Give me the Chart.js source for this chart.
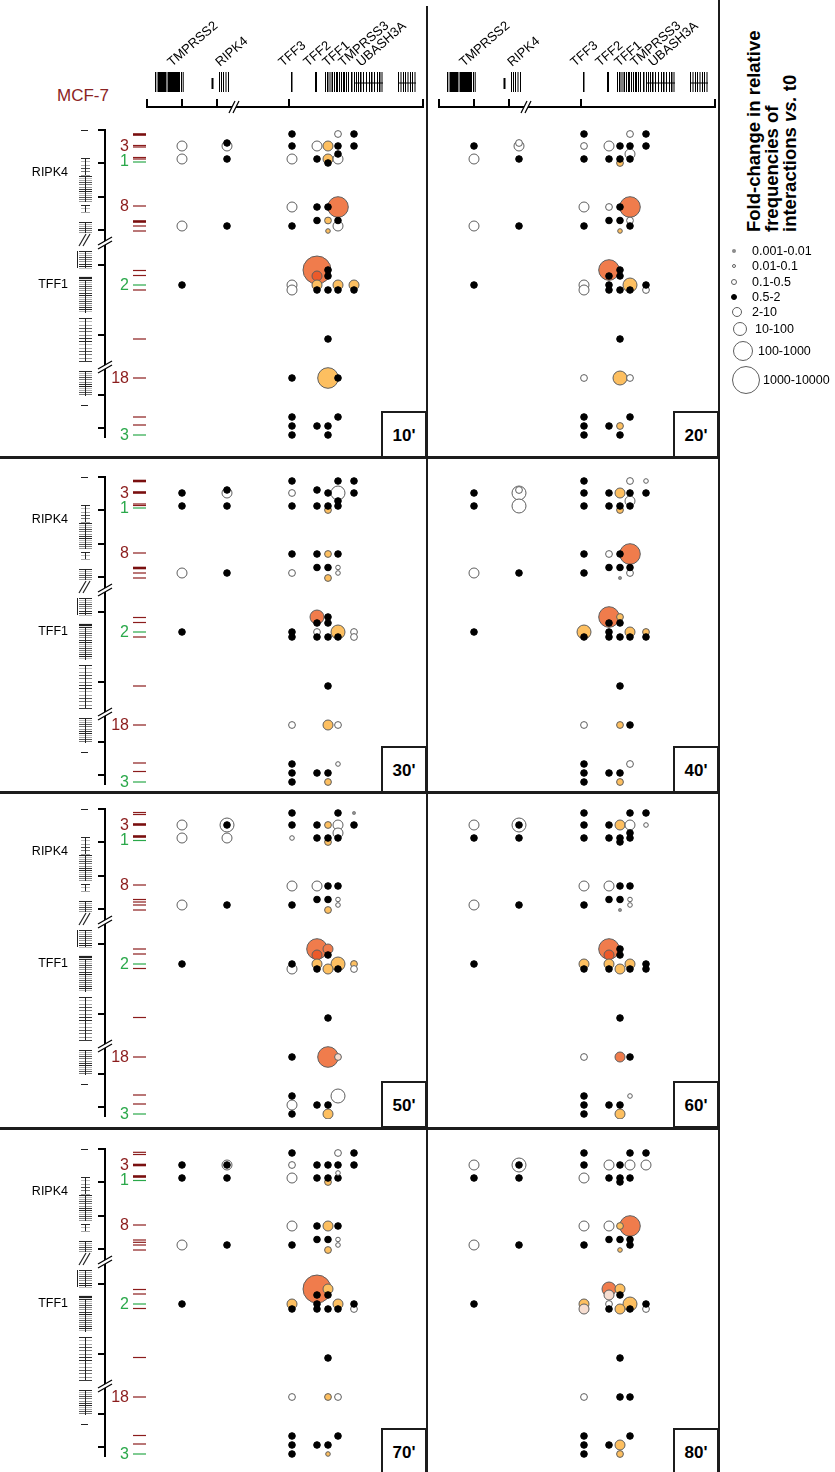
<!DOCTYPE html>
<html>
<head>
<meta charset="utf-8">
<script src="https://cdn.jsdelivr.net/npm/chart.js@4.4.1/dist/chart.umd.min.js"></script>
<style>
  html, body { margin: 0; padding: 0; background: #fff; }
  body { width: 835px; height: 1472px; position: relative; overflow: hidden;
         font-family: "Liberation Sans", Arial, Helvetica, sans-serif; color: #000; }
  canvas { position: absolute; }
  .rule { position: absolute; background: #1c1c1c; }
  .tbox { position: absolute; width: 46px; height: 47px; box-sizing: border-box;
          border: 2px solid #1c1c1c; background: #fff; font-weight: bold; font-size: 17px;
          text-align: center; line-height: 46px; }
  .lg-dot { position: absolute; border-radius: 50%; box-sizing: border-box; }
  .lg-txt { position: absolute; font-size: 12.5px; line-height: 14px; }
  #lgTitle { position: absolute; left: 745px; top: 232px; width: 210px; transform-origin: 0 0;
             transform: rotate(-90deg); font-weight: bold; font-size: 18.5px; line-height: 18px;
             white-space: nowrap; }
  #cell { position: absolute; left: 57px; top: 86px; font-size: 17px; color: #8b2323; }
</style>
</head>
<body>
<div id="cell">MCF-7</div>
<div id="lgTitle">Fold-change in relative<br>frequencies of<br>interactions <i>vs.</i> t0</div>
<script>
// ---------------------------------------------------------------
// Data
// ---------------------------------------------------------------
const timePoints = ["10'", "20'", "30'", "40'", "50'", "60'", "70'", "80'"];

// Captured fragment positions along the locus (horizontal coordinate)
const fragX = [47, 92, 157, 182, 193, 203, 219];

// Fragment positions along the viewpoint map (vertical coordinate)
const fragY = { A: 4, b: 13, B: 16, C: 24, D: 29, E: 33, F: 77, G: 90.5, H: 96, I: 101,
                J: 140, K: 146, L: 155, M: 160, N: 209, O: 248, P: 287, Q: 296, S: 305 };

// Fold-change classes (index 1..8 used in the tables below)
const foldClasses = ['0.001-0.01', '0.01-0.1', '0.1-0.5', '0.5-2', '2-10', '10-100', '100-1000', '1000-10000'];

// Interactions per time point: [fragment column, fragment row, fold-change class, colour code]
const t10 = [
  [0,'B',5,'w'],[0,'D',5,'w'],[0,'H',5,'w'],[0,'L',4,'k'],
  [1,'B',5,'w'],[1,'b',4,'k'],[1,'D',4,'k'],[1,'H',4,'k'],
  [2,'A',4,'k'],[2,'B',4,'k'],[2,'D',5,'w'],[2,'F',5,'w'],[2,'H',4,'k'],[2,'L',5,'w'],[2,'M',5,'w'],[2,'O',4,'k'],[2,'P',4,'k'],[2,'Q',4,'k'],[2,'S',4,'k'],
  [3,'B',5,'w'],[3,'D',4,'k'],[3,'F',4,'k'],[3,'G',4,'k'],[3,'J',8,'r'],[3,'K',5,'d'],[3,'L',5,'o'],[3,'M',4,'k'],[3,'Q',4,'k'],
  [4,'B',5,'o'],[4,'D',5,'o'],[4,'E',4,'k'],[4,'F',4,'k'],[4,'G',3,'o'],[4,'I',2,'o'],[4,'J',4,'k'],[4,'K',4,'k'],[4,'M',4,'k'],[4,'N',4,'k'],[4,'O',7,'o'],[4,'Q',4,'k'],[4,'S',4,'k'],
  [5,'A',3,'w'],[5,'B',4,'k'],[5,'C',4,'k'],[5,'D',5,'w'],[5,'F',7,'r'],[5,'G',4,'k'],[5,'H',5,'w'],[5,'L',5,'o'],[5,'M',4,'k'],[5,'O',4,'k'],[5,'P',4,'k'],
  [6,'A',4,'k'],[6,'B',4,'k'],[6,'L',5,'o'],[6,'M',4,'k']
];
const t20 = [
  [0,'B',4,'k'],[0,'D',5,'w'],[0,'H',5,'w'],[0,'L',4,'k'],
  [1,'b',3,'w'],[1,'B',5,'w'],[1,'D',4,'k'],[1,'H',4,'k'],
  [2,'A',4,'k'],[2,'B',3,'w'],[2,'D',4,'k'],[2,'F',5,'w'],[2,'H',4,'k'],[2,'L',5,'w'],[2,'M',5,'w'],[2,'O',3,'w'],[2,'P',4,'k'],[2,'Q',4,'k'],[2,'S',4,'k'],
  [3,'B',5,'w'],[3,'D',4,'k'],[3,'F',3,'w'],[3,'G',4,'k'],[3,'J',7,'r'],[3,'K',4,'k'],[3,'L',4,'k'],[3,'M',4,'k'],[3,'Q',4,'k'],
  [4,'B',4,'k'],[4,'D',4,'k'],[4,'E',3,'o'],[4,'F',4,'k'],[4,'G',4,'k'],[4,'I',2,'o'],[4,'J',4,'k'],[4,'K',4,'k'],[4,'M',4,'k'],[4,'N',4,'k'],[4,'O',6,'o'],[4,'Q',3,'o'],[4,'S',4,'k'],
  [5,'A',3,'w'],[5,'B',4,'k'],[5,'C',5,'w'],[5,'D',4,'k'],[5,'F',7,'r'],[5,'G',3,'w'],[5,'H',4,'k'],[5,'L',6,'o'],[5,'M',4,'k'],[5,'O',3,'w'],[5,'P',4,'k'],
  [6,'A',4,'k'],[6,'B',4,'k'],[6,'L',4,'k'],[6,'M',3,'w']
];
const t30 = [
  [0,'B',4,'k'],[0,'D',4,'k'],[0,'H',5,'w'],[0,'L',4,'k'],
  [1,'b',4,'k'],[1,'B',5,'w'],[1,'D',4,'k'],[1,'H',4,'k'],
  [2,'A',4,'k'],[2,'B',3,'w'],[2,'D',4,'k'],[2,'F',4,'k'],[2,'H',3,'w'],[2,'L',4,'k'],[2,'M',4,'k'],[2,'O',3,'w'],[2,'P',4,'k'],[2,'Q',4,'k'],[2,'S',4,'k'],
  [3,'b',4,'k'],[3,'D',4,'k'],[3,'F',4,'k'],[3,'G',4,'k'],[3,'J',6,'r'],[3,'K',4,'k'],[3,'L',3,'w'],[3,'M',4,'k'],[3,'Q',4,'k'],
  [4,'B',4,'k'],[4,'D',4,'k'],[4,'E',3,'o'],[4,'F',3,'o'],[4,'G',4,'k'],[4,'I',3,'o'],[4,'J',4,'k'],[4,'K',4,'k'],[4,'M',4,'k'],[4,'N',4,'k'],[4,'O',5,'o'],[4,'Q',4,'k'],[4,'S',3,'o'],
  [5,'A',4,'k'],[5,'B',6,'w'],[5,'C',4,'k'],[5,'D',4,'k'],[5,'F',4,'k'],[5,'G',2,'w'],[5,'H',2,'w'],[5,'L',6,'o'],[5,'M',4,'k'],[5,'O',3,'w'],[5,'P',2,'w'],
  [6,'A',4,'k'],[6,'B',4,'k'],[6,'L',3,'w'],[6,'M',3,'w']
];
const t40 = [
  [0,'B',4,'k'],[0,'D',4,'k'],[0,'H',5,'w'],[0,'L',4,'k'],
  [1,'b',3,'w'],[1,'B',6,'w'],[1,'D',6,'w'],[1,'H',4,'k'],
  [2,'A',4,'k'],[2,'B',4,'k'],[2,'D',4,'k'],[2,'F',4,'k'],[2,'H',4,'k'],[2,'L',6,'o'],[2,'M',4,'k'],[2,'O',3,'w'],[2,'P',4,'k'],[2,'Q',4,'k'],[2,'S',4,'k'],
  [3,'B',4,'k'],[3,'D',4,'k'],[3,'F',3,'w'],[3,'G',4,'k'],[3,'J',7,'r'],[3,'K',4,'k'],[3,'L',4,'k'],[3,'M',4,'k'],[3,'Q',4,'k'],
  [4,'B',5,'o'],[4,'D',4,'k'],[4,'E',3,'o'],[4,'F',4,'k'],[4,'G',4,'k'],[4,'I',1,'g'],[4,'J',3,'o'],[4,'K',4,'k'],[4,'M',4,'k'],[4,'N',4,'k'],[4,'O',3,'o'],[4,'Q',4,'k'],[4,'S',3,'o'],
  [5,'A',3,'w'],[5,'B',4,'k'],[5,'C',5,'w'],[5,'D',4,'k'],[5,'F',7,'r'],[5,'G',4,'k'],[5,'H',3,'w'],[5,'L',5,'o'],[5,'M',4,'k'],[5,'O',4,'k'],[5,'P',3,'w'],
  [6,'A',2,'w'],[6,'B',4,'k'],[6,'L',3,'o'],[6,'M',4,'k']
];
const t50 = [
  [0,'B',5,'w'],[0,'D',5,'w'],[0,'H',5,'w'],[0,'L',4,'k'],
  [1,'B',6,'w'],[1,'B',4,'k'],[1,'D',5,'w'],[1,'H',4,'k'],
  [2,'A',4,'k'],[2,'B',4,'k'],[2,'D',2,'w'],[2,'F',5,'w'],[2,'H',4,'k'],[2,'L',4,'k'],[2,'M',5,'w'],[2,'O',4,'k'],[2,'P',4,'k'],[2,'Q',5,'w'],[2,'S',4,'k'],
  [3,'B',4,'k'],[3,'D',4,'k'],[3,'F',5,'w'],[3,'G',4,'k'],[3,'J',7,'r'],[3,'K',5,'d'],[3,'L',5,'o'],[3,'M',4,'k'],[3,'Q',4,'k'],
  [4,'B',3,'o'],[4,'D',4,'k'],[4,'E',3,'o'],[4,'F',4,'k'],[4,'G',4,'k'],[4,'I',3,'o'],[4,'J',5,'r'],[4,'K',4,'k'],[4,'M',5,'o'],[4,'N',4,'k'],[4,'O',7,'r'],[4,'Q',4,'k'],[4,'S',5,'o'],
  [5,'A',4,'k'],[5,'B',5,'w'],[5,'C',5,'w'],[5,'D',4,'k'],[5,'F',4,'k'],[5,'G',2,'w'],[5,'H',2,'w'],[5,'L',6,'o'],[5,'M',4,'k'],[5,'O',3,'p'],[5,'P',6,'w'],
  [6,'A',1,'g'],[6,'B',4,'k'],[6,'L',3,'o'],[6,'M',3,'w']
];
const t60 = [
  [0,'B',5,'w'],[0,'D',4,'k'],[0,'H',5,'w'],[0,'L',4,'k'],
  [1,'B',6,'w'],[1,'B',4,'k'],[1,'D',4,'k'],[1,'H',4,'k'],
  [2,'A',4,'k'],[2,'B',4,'k'],[2,'D',4,'k'],[2,'F',5,'w'],[2,'H',4,'k'],[2,'L',5,'o'],[2,'M',4,'k'],[2,'O',3,'w'],[2,'P',4,'k'],[2,'Q',4,'k'],[2,'S',4,'k'],
  [3,'B',4,'k'],[3,'D',4,'k'],[3,'F',5,'w'],[3,'G',4,'k'],[3,'J',7,'r'],[3,'K',5,'d'],[3,'L',5,'o'],[3,'M',4,'k'],[3,'Q',4,'k'],
  [4,'B',5,'o'],[4,'D',4,'k'],[4,'E',4,'k'],[4,'F',4,'k'],[4,'G',4,'k'],[4,'I',1,'g'],[4,'J',4,'k'],[4,'K',4,'k'],[4,'M',5,'o'],[4,'N',4,'k'],[4,'O',5,'r'],[4,'Q',4,'k'],[4,'S',5,'o'],
  [5,'A',4,'k'],[5,'B',5,'w'],[5,'C',4,'k'],[5,'D',4,'k'],[5,'F',4,'k'],[5,'G',2,'w'],[5,'H',2,'w'],[5,'L',5,'o'],[5,'M',4,'k'],[5,'O',4,'k'],[5,'P',2,'w'],
  [6,'A',4,'k'],[6,'B',2,'w'],[6,'L',4,'k'],[6,'M',4,'k']
];
const t70 = [
  [0,'B',4,'k'],[0,'D',4,'k'],[0,'H',5,'w'],[0,'L',4,'k'],
  [1,'B',5,'w'],[1,'B',4,'k'],[1,'D',4,'k'],[1,'H',4,'k'],
  [2,'A',4,'k'],[2,'B',3,'w'],[2,'D',5,'w'],[2,'F',5,'w'],[2,'H',4,'k'],[2,'L',5,'o'],[2,'M',4,'k'],[2,'O',3,'w'],[2,'P',4,'k'],[2,'Q',4,'k'],[2,'S',4,'k'],
  [3,'B',4,'k'],[3,'D',4,'k'],[3,'F',4,'k'],[3,'G',4,'k'],[3,'J',8,'r'],[3,'K',4,'k'],[3,'L',4,'k'],[3,'M',4,'k'],[3,'Q',4,'k'],
  [4,'B',4,'k'],[4,'D',4,'k'],[4,'E',3,'o'],[4,'F',5,'o'],[4,'G',4,'k'],[4,'I',3,'o'],[4,'J',5,'o'],[4,'K',4,'k'],[4,'M',4,'k'],[4,'N',4,'k'],[4,'O',3,'o'],[4,'Q',4,'k'],[4,'S',2,'o'],
  [5,'A',3,'w'],[5,'B',4,'k'],[5,'C',2,'w'],[5,'D',4,'k'],[5,'F',4,'k'],[5,'G',2,'w'],[5,'H',2,'w'],[5,'L',5,'o'],[5,'M',4,'k'],[5,'O',3,'w'],[5,'P',4,'k'],
  [6,'A',4,'k'],[6,'B',4,'k'],[6,'L',4,'k'],[6,'M',3,'w']
];
const t80 = [
  [0,'B',5,'w'],[0,'D',4,'k'],[0,'H',5,'w'],[0,'L',4,'k'],
  [1,'B',6,'w'],[1,'B',4,'k'],[1,'D',4,'k'],[1,'H',4,'k'],
  [2,'A',4,'k'],[2,'B',4,'k'],[2,'D',5,'w'],[2,'F',5,'w'],[2,'H',4,'k'],[2,'L',5,'o'],[2,'M',5,'p'],[2,'O',3,'w'],[2,'P',4,'k'],[2,'Q',4,'k'],[2,'S',4,'k'],
  [3,'B',5,'w'],[3,'D',4,'k'],[3,'F',5,'w'],[3,'G',4,'k'],[3,'J',6,'r'],[3,'K',5,'p'],[3,'L',3,'w'],[3,'M',4,'k'],[3,'Q',4,'k'],
  [4,'B',4,'k'],[4,'D',4,'k'],[4,'E',4,'k'],[4,'F',3,'o'],[4,'G',4,'k'],[4,'I',2,'o'],[4,'J',5,'o'],[4,'K',4,'k'],[4,'M',5,'o'],[4,'N',4,'k'],[4,'O',4,'k'],[4,'Q',5,'o'],[4,'S',3,'o'],
  [5,'A',4,'k'],[5,'B',5,'w'],[5,'D',4,'k'],[5,'F',7,'r'],[5,'G',4,'k'],[5,'H',4,'k'],[5,'L',6,'o'],[5,'M',4,'k'],[5,'O',4,'k'],[5,'P',4,'k'],
  [6,'A',4,'k'],[6,'B',5,'w'],[6,'L',4,'k'],[6,'M',3,'w']
];
const seriesByTime = [t10, t20, t30, t40, t50, t60, t70, t80];

// Restriction fragments on the viewpoint map: [position, kind] (R = bait, r = fragment, g = reference)
const map10 = [[4.5,'R'],[15.5,'r'],[17,'r'],[27.5,'r'],[29,'r'],[32,'g'],[76,'r'],[91.5,'R'],[96,'r'],[101,'r'],[140.5,'r'],[145.5,'r'],[155,'g'],[160,'r'],[209,'r'],[248,'r'],[287,'r'],[295,'r'],[305,'g']];
const map30 = [[4,'R'],[15.5,'R'],[27,'r'],[28.5,'r'],[31,'g'],[76,'r'],[91,'R'],[96,'r'],[101,'r'],[140.5,'r'],[145.5,'r'],[155,'g'],[160,'r'],[209,'r'],[248,'r'],[286,'r'],[294.5,'r'],[305,'g']];
const map50 = [[3.5,'r'],[5.5,'r'],[15.5,'R'],[27.5,'R'],[31.5,'g'],[76,'r'],[90.5,'r'],[93,'r'],[96,'r'],[101,'r'],[140,'r'],[145,'r'],[155,'g'],[159.5,'r'],[208.5,'r'],[248,'r'],[286,'r'],[295,'r'],[305,'g']];
const map70 = [[3.3,'r'],[5.5,'r'],[16,'R'],[27.5,'R'],[31.5,'g'],[76,'r'],[91,'r'],[93.3,'r'],[96,'r'],[101,'r'],[140.5,'r'],[145,'r'],[155,'g'],[159.5,'r'],[208.5,'r'],[248,'r'],[286.5,'r'],[295,'r'],[305,'g']];
const mapByRow = [map10, map30, map50, map70];

// Fragment numbers shown beside the map: [text, position, colour code]
const fragLabels = [['3',15.5,'r'],['1',31,'g'],['8',76,'r'],['2',155,'g'],['18',248,'r'],['3',305,'g']];
// Map scale ticks and breaks
const mapTicks = [0, 33, 67, 100, 135, 205, 265, 298];
const mapBreaks = [110, 234];
// Gene names on the map
const mapGenes = [['RIPK4', 43], ['TFF1', 155]];
// Ideogram bands: [from, to, density]
const ideoBands = [[28,45,'sparse'],[46,72,'dense'],[75,82,'sparse'],[92,103,'dense'],[121,138,'dense'],[150,183,'dense'],[188,231,'mid'],[241,266,'dense']];

// Locus track: exons (start, end) along the horizontal coordinate
const exons = [
  [20,21.3],[22.5,31.5],[32.5,45],[46,47],[47.7,48.5],
  [84,85],[86,87],[88,89],[90.5,91.5],[93,94],
  [156,157.5],[180,182],
  [190,191],[192,193.5],[194.5,195.5],[196.5,198],[199,200],[201,203],[204,205],[206,207],[208,210],[211,212],[213,214],[216,217.5],
  [219,220],[221,222],[223,224],[225,226.5],[228,229],[231,232],[234,235],[236,237.5],[239,240],[242,243],[244,245.5],[246.5,247.5],
  [263,264],[265.5,266.5],[268,269],[270,271],[272.5,273.5],[275,276],[277,278],[279.5,280.5]
];
const shortExons = [[76.5,78.5]];
const locusTicks = [12, 47, 82, 154, 288];
const locusGenes = [['TMPRSS2',37],['RIPK4',85],['TFF3',148],['TFF2',173],['TFF1',192],['TMPRSS3',208],['UBASH3A',226]];

// ---------------------------------------------------------------
// Styling
// ---------------------------------------------------------------
const FONT = '"Liberation Sans", Arial, sans-serif';
const classRadius = { 1: 1.6, 2: 2.3, 3: 3.4, 4: 3.3, 5: 5, 6: 7, 7: 10.3, 8: 14 };
const fillColor = { k: '#000000', w: '#ffffff', o: '#fdbf60', r: '#f07c4c', d: '#ec5a2a', p: '#f6ddd0', g: '#8c8c8c' };
const strokeColor = f => (f === 'k' ? '#000000' : f === 'g' ? '#8c8c8c' : '#5e5e5e');
const MAP_RED = '#8b1c1c', MAP_GREEN = '#2aa84a';

const PAD_TOP = 22, PANEL_H = 332, COL_W = 292;
const rowBase = [130, 476.7, 809.3, 1149];
const colLeft = [135, 427];

function line(ctx, x0, y0, x1, y1) { ctx.beginPath(); ctx.moveTo(x0, y0); ctx.lineTo(x1, y1); ctx.stroke(); }

// Viewpoint map on the left of each row: ideogram, scale, fragments, labels
function mapPlugin(marks) {
  return {
    id: 'viewpointMap',
    afterDraw(chart) {
      const ctx = chart.ctx;
      const Y = v => chart.scales.y.getPixelForValue(v);
      ctx.save();
      // ideogram
      const shades = ['#2a2a2a', '#9a9a9a', '#555555', '#bcbcbc', '#3a3a3a', '#7c7c7c', '#a8a8a8'];
      ideoBands.forEach(([a, b, kind]) => {
        const step = kind === 'dense' ? 2.1 : 3.3;
        let i = 0;
        for (let v = a; v <= b; v += step, i++) {
          const yy = Math.round(Y(v)) + 0.5;
          ctx.strokeStyle = shades[(i * 3) % shades.length];
          ctx.lineWidth = 1;
          if (kind === 'sparse') line(ctx, 81, yy, 90, yy); else line(ctx, 79, yy, 92, yy);
        }
        ctx.strokeStyle = '#222'; ctx.lineWidth = 1;
        line(ctx, 85.5, Y(a), 85.5, Y(b));
      });
      ctx.strokeStyle = '#222'; ctx.lineWidth = 1;
      line(ctx, 81, Math.round(Y(0)) + 0.5, 88, Math.round(Y(0)) + 0.5);
      line(ctx, 81, Math.round(Y(275)) + 0.5, 88, Math.round(Y(275)) + 0.5);
      line(ctx, 77.5, Y(121), 77.5, Y(138));
      ctx.lineWidth = 2.2;
      line(ctx, 79, Y(148), 92, Y(148));
      // ideogram break
      ctx.lineWidth = 1.2; ctx.strokeStyle = '#222';
      line(ctx, 79, Y(116), 86, Y(104));
      line(ctx, 83, Y(116), 90, Y(104));

      // scale
      ctx.strokeStyle = '#000'; ctx.lineWidth = 2;
      line(ctx, 105, Y(-0.5), 105, Y(308));
      mapTicks.forEach(t => line(ctx, 98, Y(t), 106, Y(t)));
      mapBreaks.forEach(r => {
        const c = Y(r);
        ctx.fillStyle = '#fff';
        ctx.beginPath();
        ctx.moveTo(98, c + 5); ctx.lineTo(112, c - 3); ctx.lineTo(112, c + 1); ctx.lineTo(98, c + 9);
        ctx.closePath(); ctx.fill();
        ctx.strokeStyle = '#000'; ctx.lineWidth = 1.2;
        line(ctx, 98, c + 5, 112, c - 3);
        line(ctx, 98, c + 9, 112, c + 1);
      });

      // fragments
      marks.forEach(([r, kind]) => {
        ctx.strokeStyle = kind === 'g' ? MAP_GREEN : (kind === 'R' ? '#7a0f0f' : MAP_RED);
        ctx.lineWidth = kind === 'R' ? 2.6 : 1.2;
        line(ctx, 133, Y(r), 146, Y(r));
      });
      ctx.font = '16px ' + FONT;
      ctx.textAlign = 'right'; ctx.textBaseline = 'middle';
      fragLabels.forEach(([txt, r, c]) => {
        ctx.fillStyle = c === 'g' ? MAP_GREEN : MAP_RED;
        ctx.fillText(txt, 129, Y(r) + 1);
      });
      ctx.fillStyle = '#000'; ctx.font = '12.5px ' + FONT;
      mapGenes.forEach(([txt, r]) => ctx.fillText(txt, 68, Y(r)));
      ctx.restore();
    }
  };
}

// Locus track above each column
const locusPlugin = {
  id: 'locusTrack',
  afterDraw(chart) {
    const ctx = chart.ctx, xs = chart.scales.x, ys = chart.scales.y;
    ctx.save();
    ctx.fillStyle = '#000';
    exons.forEach(([a, b]) => {
      const x0 = xs.getPixelForValue(a), x1 = xs.getPixelForValue(b);
      ctx.fillRect(x0, ys.getPixelForValue(72), Math.max(1, x1 - x0), ys.getPixelForValue(92) - ys.getPixelForValue(72));
    });
    shortExons.forEach(([a, b]) => {
      const x0 = xs.getPixelForValue(a), x1 = xs.getPixelForValue(b);
      ctx.fillRect(x0, ys.getPixelForValue(78), x1 - x0, ys.getPixelForValue(89) - ys.getPixelForValue(78));
    });
    ctx.strokeStyle = '#000'; ctx.lineWidth = 1;
    line(ctx, xs.getPixelForValue(219), ys.getPixelForValue(83), xs.getPixelForValue(248), ys.getPixelForValue(83));
    line(ctx, xs.getPixelForValue(263), ys.getPixelForValue(83), xs.getPixelForValue(281), ys.getPixelForValue(83));
    // coordinate axis
    ctx.lineWidth = 2;
    const ay = ys.getPixelForValue(107);
    line(ctx, xs.getPixelForValue(12), ay, xs.getPixelForValue(288), ay);
    locusTicks.forEach(t => line(ctx, xs.getPixelForValue(t), ay + 1, xs.getPixelForValue(t), ay - 8));
    const bx = xs.getPixelForValue(99);
    ctx.fillStyle = '#fff';
    ctx.beginPath();
    ctx.moveTo(bx - 5, ay + 6); ctx.lineTo(bx + 1, ay - 6); ctx.lineTo(bx + 5, ay - 6); ctx.lineTo(bx - 1, ay + 6);
    ctx.closePath(); ctx.fill();
    ctx.lineWidth = 1.2;
    line(ctx, bx - 5, ay + 6, bx + 1, ay - 6);
    line(ctx, bx - 1, ay + 6, bx + 5, ay - 6);
    // gene names
    ctx.fillStyle = '#000'; ctx.font = '13px ' + FONT;
    ctx.textAlign = 'left'; ctx.textBaseline = 'alphabetic';
    locusGenes.forEach(([g, x]) => {
      ctx.save();
      ctx.translate(xs.getPixelForValue(x), ys.getPixelForValue(67));
      ctx.rotate(-41 * Math.PI / 180);
      ctx.fillText(g, 0, 0);
      ctx.restore();
    });
    ctx.restore();
  }
};

function addCanvas(left, top, w, h) {
  const cv = document.createElement('canvas');
  cv.width = w; cv.height = h;
  cv.style.left = left + 'px'; cv.style.top = top + 'px';
  cv.style.width = w + 'px'; cv.style.height = h + 'px';
  document.body.appendChild(cv);
  return cv;
}

const baseOptions = (padLeft, yMin, yMax) => ({
  responsive: false, animation: false, devicePixelRatio: 1, events: [],
  layout: { autoPadding: false, padding: { left: padLeft, right: 0, top: 0, bottom: 0 } },
  scales: {
    x: { type: 'linear', min: 0, max: COL_W, display: false },
    y: { type: 'linear', min: yMin, max: yMax, reverse: true, display: false }
  },
  plugins: { legend: { display: false }, tooltip: { enabled: false } }
});

// Locus headers
colLeft.forEach(left => {
  const cv = addCanvas(left, 0, COL_W, 118);
  new Chart(cv, { type: 'scatter', data: { datasets: [] }, options: baseOptions(0, 0, 118), plugins: [locusPlugin] });
});

// Interaction panels
seriesByTime.forEach((series, i) => {
  const row = Math.floor(i / 2), col = i % 2;
  const withMap = col === 0;
  const top = rowBase[row] - PAD_TOP;
  const left = withMap ? 0 : colLeft[1];
  const width = withMap ? colLeft[0] + COL_W : COL_W;
  const cv = addCanvas(left, top, width, PANEL_H);
  const pts = series.map(([c, rk, cls, f]) => ({ x: fragX[c], y: fragY[rk], r: classRadius[cls], cls: cls, fill: f }))
                    .sort((a, b) => b.r - a.r);
  new Chart(cv, {
    type: 'bubble',
    data: { datasets: [{
      data: pts,
      backgroundColor: c => (c.raw ? fillColor[c.raw.fill] : '#000'),
      borderColor: c => (c.raw ? strokeColor(c.raw.fill) : '#000'),
      borderWidth: 1,
      hoverRadius: 0,
      clip: false
    }] },
    options: baseOptions(withMap ? colLeft[0] : 0, -PAD_TOP, PANEL_H - PAD_TOP),
    plugins: withMap ? [mapPlugin(mapByRow[row])] : []
  });
});

// Frame rules and time-point boxes
function rule(l, t, w, h) {
  const d = document.createElement('div'); d.className = 'rule';
  Object.assign(d.style, { left: l + 'px', top: t + 'px', width: w + 'px', height: h + 'px' });
  document.body.appendChild(d);
}
rule(426, 6, 2, 1466);
rule(718, 0, 2, 1472);
[457, 792, 1128].forEach(y => rule(0, y - 1, 720, 2.5));
const boxTop = [411, 746, 1081, 1428];
timePoints.forEach((tp, i) => {
  const d = document.createElement('div'); d.className = 'tbox';
  d.style.left = (i % 2 === 0 ? 381 : 673) + 'px';
  d.style.top = boxTop[Math.floor(i / 2)] + 'px';
  d.textContent = tp;
  document.body.appendChild(d);
});

// Size key
const keyY = [251, 266, 282, 297, 312, 329, 351, 380];
const keyX = [734, 734, 734, 734, 737, 740, 743, 746];
const keyTextX = [752, 752, 752, 752, 752, 755, 758, 763];
const keyFill = ['g', 'w', 'w', 'k', 'w', 'w', 'w', 'w'];
foldClasses.forEach((lab, i) => {
  const r = classRadius[i + 1];
  const dot = document.createElement('div'); dot.className = 'lg-dot';
  Object.assign(dot.style, {
    left: (keyX[i] - r) + 'px', top: (keyY[i] - r) + 'px', width: (2 * r) + 'px', height: (2 * r) + 'px',
    background: fillColor[keyFill[i]], border: '1px solid ' + strokeColor(keyFill[i])
  });
  document.body.appendChild(dot);
  const t = document.createElement('div'); t.className = 'lg-txt';
  t.style.left = keyTextX[i] + 'px'; t.style.top = (keyY[i] - 7) + 'px';
  t.textContent = lab;
  document.body.appendChild(t);
});
</script>
</body>
</html>
